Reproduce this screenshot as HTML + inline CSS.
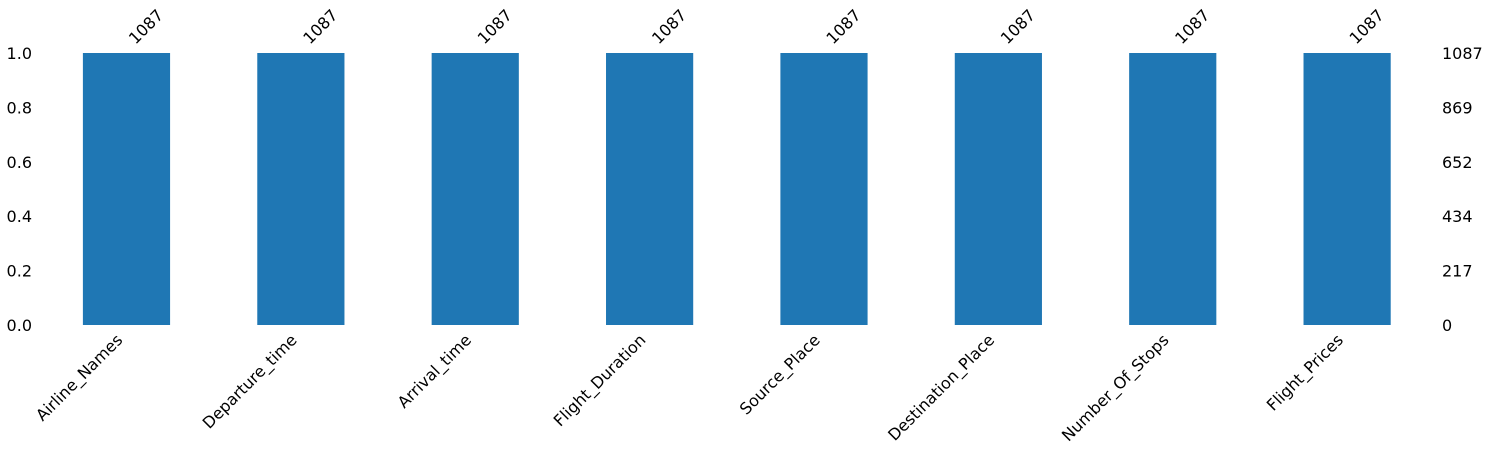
<!DOCTYPE html>
<html>
<head>
<meta charset="utf-8">
<style>
  html,body{margin:0;padding:0;background:#fff;}
  svg{display:block;font-family:"DejaVu Sans","Liberation Sans",sans-serif;}
</style>
</head>
<body>
<svg id="chart" width="1489" height="452" viewBox="0 0 1489 452" xmlns="http://www.w3.org/2000/svg"></svg>
<script>
const categories = ["Airline_Names","Departure_time","Arrival_time","Flight_Duration","Source_Place","Destination_Place","Number_Of_Stops","Flight_Prices"];
const counts = [1087,1087,1087,1087,1087,1087,1087,1087];
const totalRows = 1087;
const leftTicks = ["0.0","0.2","0.4","0.6","0.8","1.0"];
const leftTickValues = [0,0.2,0.4,0.6,0.8,1.0];

const svg = document.getElementById('chart');
const NS = "http://www.w3.org/2000/svg";
const plotLeft = 39.3, plotRight = 1434.3, yTop = 53, yBottom = 325;
const n = categories.length;
const step = (plotRight - plotLeft) / n;
const xCenter = i => plotLeft + step * (i + 0.5);
const yScale = v => yBottom - v * (yBottom - yTop);
const barW = step * 0.5;

function mk(tag, attrs){ const e = document.createElementNS(NS, tag); for (const k in attrs) e.setAttribute(k, attrs[k]); svg.appendChild(e); return e; }

counts.forEach((c, i) => {
  const frac = c / totalRows;
  const r = mk('rect', {x: xCenter(i) - barW/2, y: yScale(frac), width: barW, height: yBottom - yScale(frac), fill: '#1f77b4'});
  
  

  const t = mk('text', {x: 0, y: 0, 'font-size': 16, fill: '#000', 'text-anchor': 'start',
    transform: `translate(${xCenter(i) + 9},${yScale(frac) - 8}) rotate(-45)`});
  t.textContent = c;
  
  

  const xl = mk('text', {x: 0, y: 0, 'font-size': 16, fill: '#000', 'text-anchor': 'end',
    transform: `translate(${xCenter(i) - 3},${yBottom + 16}) rotate(-45)`});
  xl.textContent = categories[i];
  
  
});

leftTickValues.forEach((v, i) => {
  const t = mk('text', {x: 32, y: yScale(v) + 6, 'font-size': 16, fill: '#000', 'text-anchor': 'end'});
  t.textContent = leftTicks[i];
  
  

  const r = mk('text', {x: 1442, y: yScale(v) + 6, 'font-size': 16, fill: '#000', 'text-anchor': 'start'});
  r.textContent = Math.floor(v * totalRows + 1e-9);
  
  
});
</script>
</body>
</html>
